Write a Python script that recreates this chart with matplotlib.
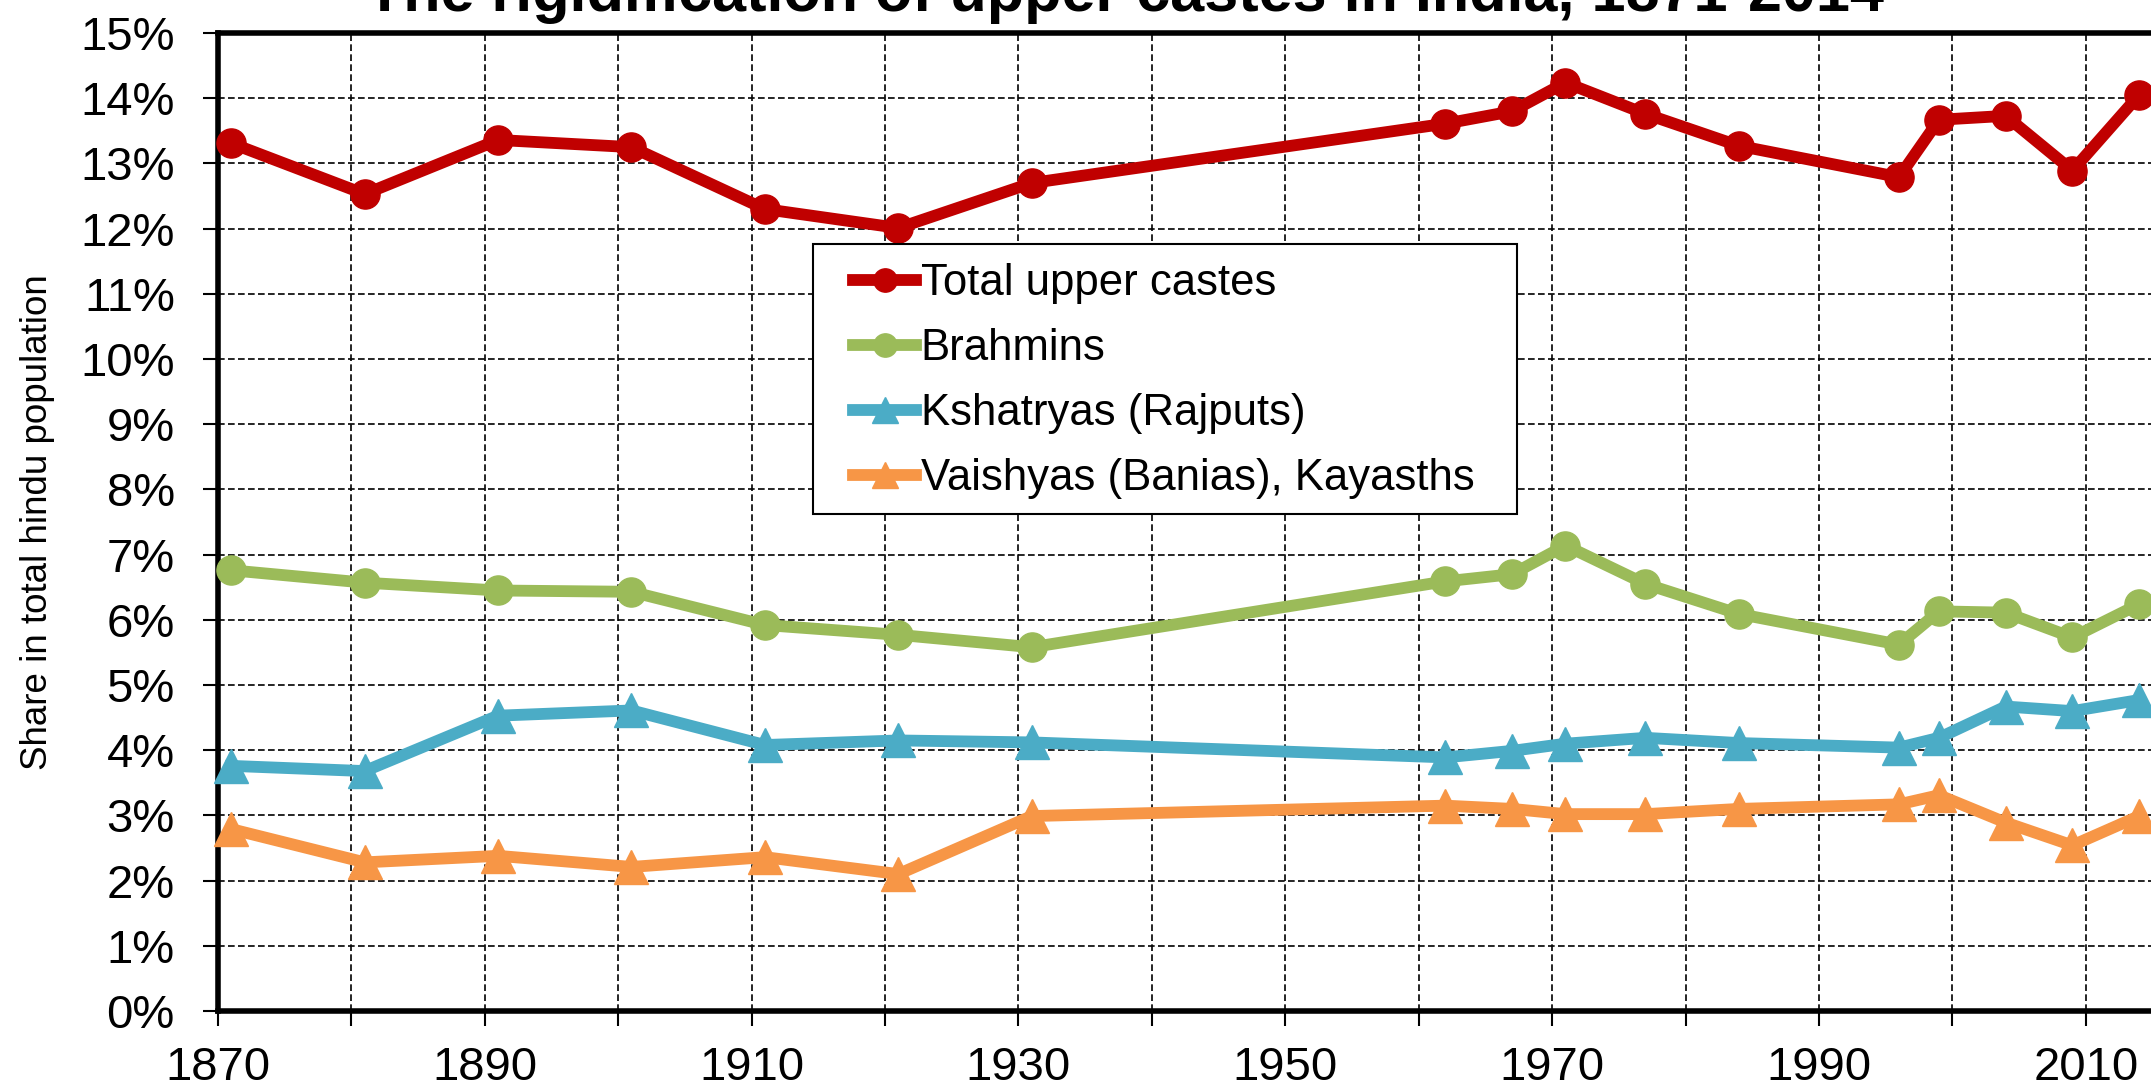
import matplotlib
matplotlib.use("Agg")
import matplotlib.pyplot as plt
from matplotlib.ticker import FixedLocator, FuncFormatter
from matplotlib.patches import Rectangle

plt.rcParams['font.family'] = ['Liberation Sans', 'DejaVu Sans']

years = [1871, 1881, 1891, 1901, 1911, 1921, 1931, 1962, 1967, 1971, 1977,
         1984, 1996, 1999, 2004, 2009, 2014]
total_upper = [13.31, 12.53, 13.36, 13.25, 12.30, 12.01, 12.70, 13.61, 13.80,
               14.24, 13.76, 13.27, 12.79, 13.67, 13.73, 12.89, 14.05]
brahmins = [6.76, 6.57, 6.45, 6.43, 5.92, 5.77, 5.58, 6.59, 6.70, 7.14, 6.55,
            6.09, 5.62, 6.13, 6.11, 5.73, 6.24]
kshatryas = [3.76, 3.68, 4.53, 4.61, 4.08, 4.15, 4.12, 3.89, 3.99, 4.10, 4.19,
             4.11, 4.04, 4.19, 4.67, 4.60, 4.77]
vaishyas = [2.79, 2.28, 2.38, 2.21, 2.36, 2.10, 2.99, 3.15, 3.10, 3.02, 3.02,
            3.10, 3.17, 3.31, 2.89, 2.54, 2.99]

labels = ["Total upper castes", "Brahmins", "Kshatryas (Rajputs)",
          "Vaishyas (Banias), Kayasths"]
colors = ["#C00000", "#9BBB59", "#4BACC6", "#F79646"]
markers = ["o", "o", "^", "^"]
msizes = [21, 21, 24, 24]

fig = plt.figure(figsize=(21.51, 10.87), dpi=100)
ax = fig.add_axes([0.1013, 0.0699, 0.9304, 0.8997])

for vals, lab, c, m, ms in zip([total_upper, brahmins, kshatryas, vaishyas],
                               labels, colors, markers, msizes):
    ax.plot(years, vals, color=c, lw=8.5, marker=m, markersize=ms,
            label=lab, zorder=3, clip_on=False)

ax.set_xlim(1870, 2020)
ax.set_ylim(0, 15)
ax.xaxis.set_major_locator(FixedLocator(list(range(1870, 2021, 10))))
ax.xaxis.set_major_formatter(FuncFormatter(lambda v, p: f"{int(v)}" if int(v) % 20 == 10 else ""))
ax.yaxis.set_major_locator(FixedLocator(list(range(0, 16))))
ax.yaxis.set_major_formatter(FuncFormatter(lambda v, p: f"{int(v)}%"))

ax.grid(True, color='black', linestyle=(0, (4, 2)), linewidth=1.2, zorder=0)
ax.set_axisbelow(True)

for s in ['left', 'bottom', 'top']:
    ax.spines[s].set_linewidth(4)
    ax.spines[s].set_color('black')
ax.spines['right'].set_visible(False)

ax.tick_params(axis='both', direction='out', length=11, width=1.5,
               labelsize=34, colors='black')
ax.tick_params(axis='x', pad=14)
ax.tick_params(axis='y', pad=20)

ax.set_ylabel("Share in total hindu population", fontsize=26.5, labelpad=18)

fig.text(0.523, 0.99, "The rigidification of upper castes in India, 1871-2014",
         ha='center', va='baseline', fontsize=44, fontweight='bold')

# legend frame drawn separately so the inner padding can match the reference
frame = Rectangle((0.2974, 0.508), 0.6492 - 0.2974, 0.7843 - 0.508,
                  transform=ax.transAxes, facecolor='white', edgecolor='black',
                  linewidth=1.5, zorder=4)
ax.add_patch(frame)

leg = ax.legend(loc='upper left', bbox_to_anchor=(0.3173, 0.765), fontsize=31.5,
                frameon=False, handlelength=1.45, handletextpad=0.1,
                borderpad=0, labelspacing=0.55, borderaxespad=0,
                markerscale=0.8)
leg.set_zorder(5)

fig.savefig("out.png", dpi=100)
